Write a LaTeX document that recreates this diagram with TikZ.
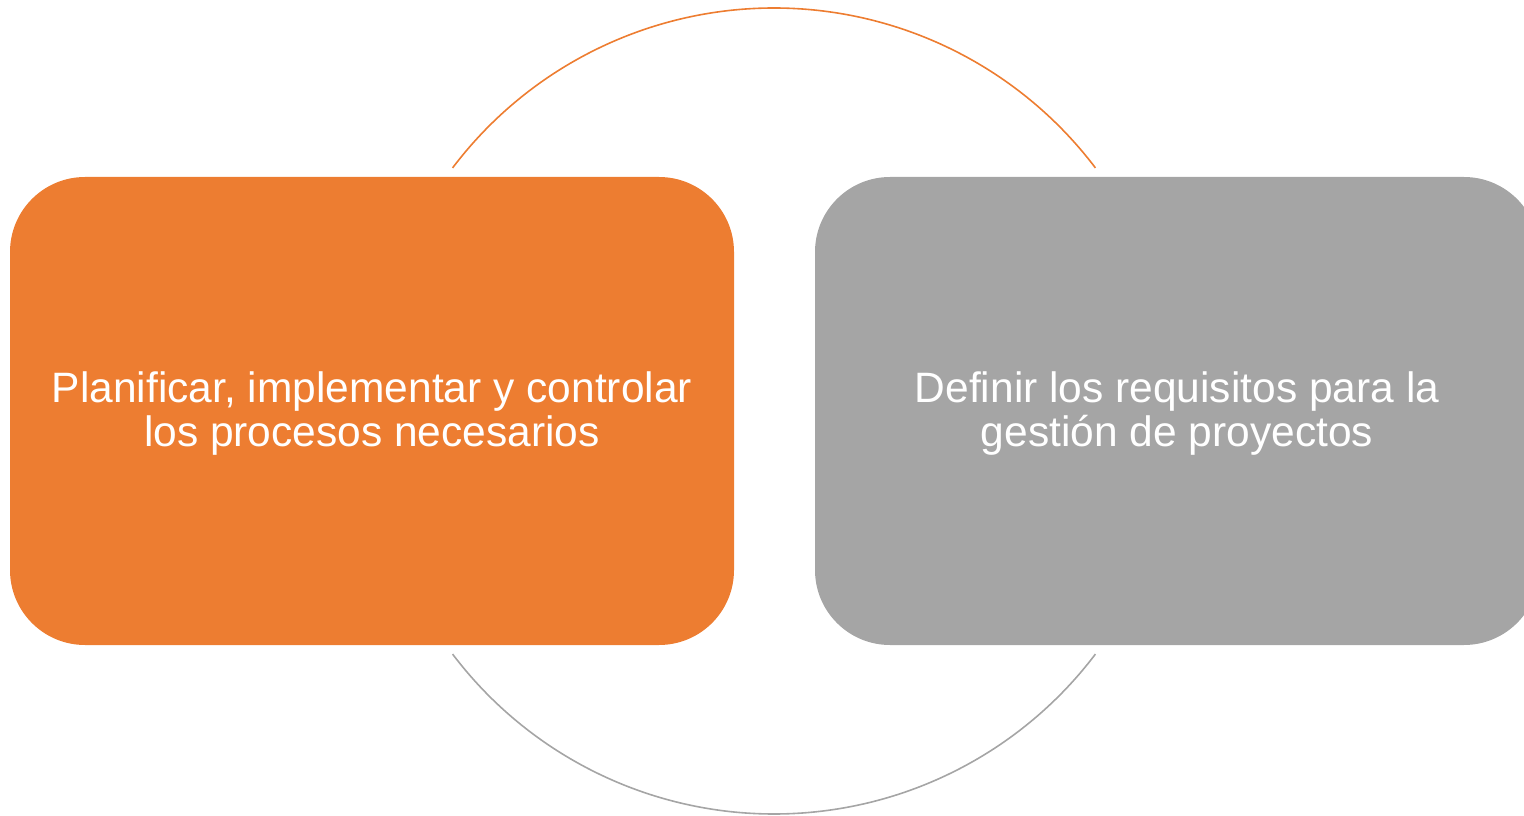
\documentclass[tikz,border=0pt]{standalone}
\usepackage{fontspec}
\setmainfont{Liberation Sans}
\definecolor{naranja}{HTML}{ED7D31}
\definecolor{gris}{HTML}{A5A5A5}
\tikzstyle{blockstyle}=[draw=none, text=white, align=center,
  minimum width=724pt, minimum height=468pt, rounded corners=75pt,
  font=\fontsize{42.5}{44}\selectfont]
\tikzstyle{tareaA} = [blockstyle, fill=naranja]
\tikzstyle{tareaB} = [blockstyle, fill=gris]
\tikzstyle{ciclo} = [line width=1.6pt]
\newcommand{\tarea}[3]{node (t#1) [#2] {\rule{0pt}{35pt}#3}}

\begin{document}
\begin{tikzpicture}[x=1pt, y=1pt]
\useasboundingbox (0,0) rectangle (1524,815);
\clip (0,0) rectangle (1524,815);
% Draw circle behind the blocks
\coordinate (c) at (774,404);
\draw [ciclo, naranja] (c) ++(142.9:403) arc [start angle=142.9, end angle=37.1, radius=403];
\draw [ciclo, gris] (c) ++(217.1:403) arc [start angle=217.1, end angle=322.9, radius=403];

% Draw diagram elements
\path (372,404)  \tarea{1}{tareaA}{Planificar, implementar y controlar\\los procesos necesarios};
\path (1177,404) \tarea{2}{tareaB}{Definir los requisitos para la\\gestión de proyectos};
\end{tikzpicture}
\end{document}
